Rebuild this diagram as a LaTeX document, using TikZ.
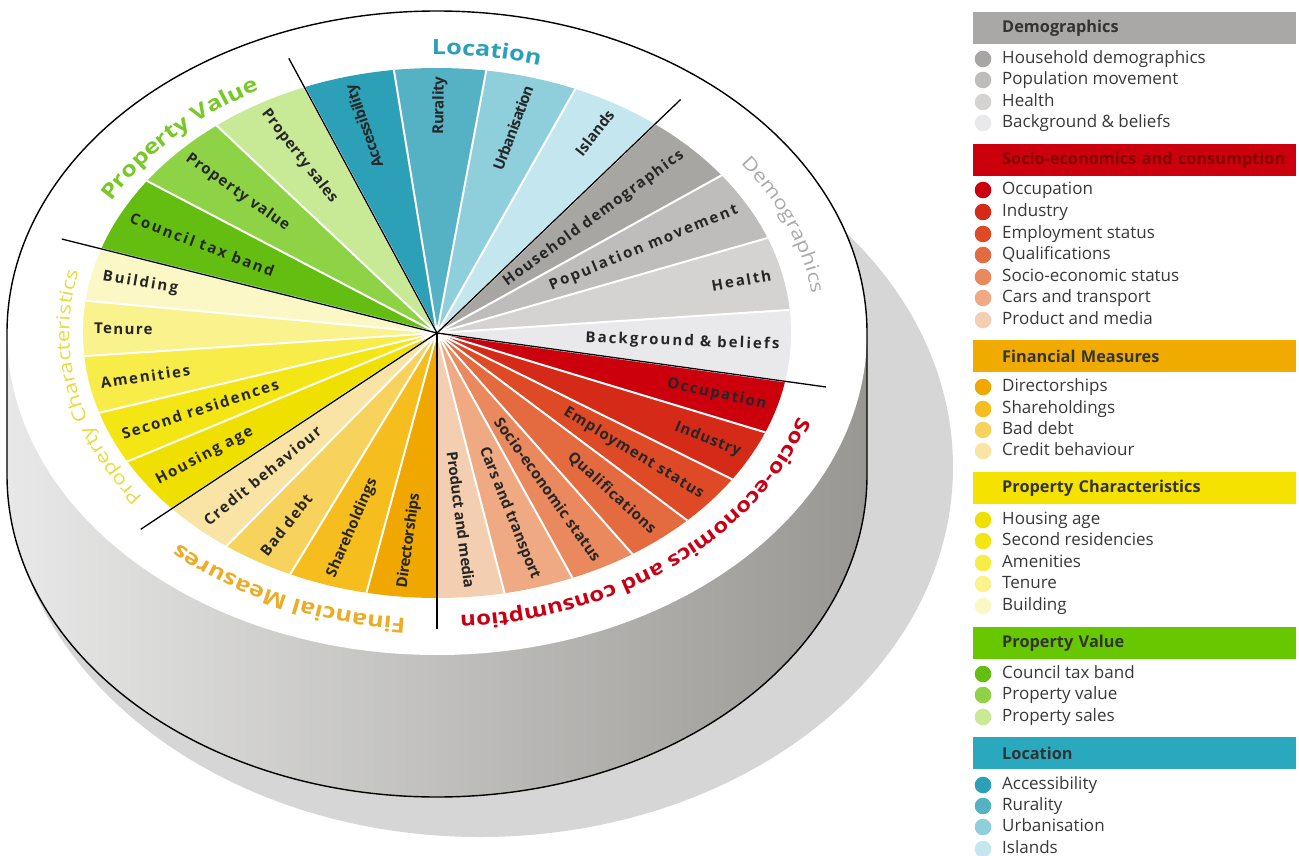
\documentclass[tikz,border=0pt]{standalone}
\usepackage{fontspec}
\setmainfont{Open Sans}
\newfontfamily\lblfont{Open Sans}
\newfontfamily\ttlfont[FakeStretch=1.2]{Open Sans}
\usetikzlibrary{decorations.text}

% wedge colours
\definecolor{locA}{RGB}{43,160,182}
\definecolor{locB}{RGB}{84,178,196}
\definecolor{locC}{RGB}{143,206,219}
\definecolor{locD}{RGB}{196,230,238}
\definecolor{demA}{RGB}{168,166,163}
\definecolor{demB}{RGB}{190,189,187}
\definecolor{demC}{RGB}{212,211,210}
\definecolor{demD}{RGB}{233,233,235}
\definecolor{socA}{RGB}{204,0,12}
\definecolor{socB}{RGB}{214,42,24}
\definecolor{socC}{RGB}{222,74,38}
\definecolor{socD}{RGB}{228,106,64}
\definecolor{socE}{RGB}{234,136,94}
\definecolor{socF}{RGB}{239,170,132}
\definecolor{socG}{RGB}{244,206,176}
\definecolor{finA}{RGB}{240,168,0}
\definecolor{finB}{RGB}{245,190,30}
\definecolor{finC}{RGB}{247,210,92}
\definecolor{finD}{RGB}{250,228,165}
\definecolor{pcA}{RGB}{240,224,0}
\definecolor{pcB}{RGB}{244,230,20}
\definecolor{pcC}{RGB}{247,236,72}
\definecolor{pcD}{RGB}{250,242,140}
\definecolor{pcE}{RGB}{252,248,198}
\definecolor{pvA}{RGB}{100,190,18}
\definecolor{pvB}{RGB}{142,210,70}
\definecolor{pvC}{RGB}{200,234,150}
% headers and titles
\definecolor{demH}{RGB}{170,168,166}
\definecolor{socH}{RGB}{204,0,12}
\definecolor{finH}{RGB}{240,170,0}
\definecolor{pcH}{RGB}{246,226,0}
\definecolor{pvH}{RGB}{104,200,0}
\definecolor{locH}{RGB}{42,168,190}
\definecolor{socHtext}{RGB}{130,0,0}
\definecolor{locT}{RGB}{42,160,185}
\definecolor{pvT}{RGB}{120,200,40}
\definecolor{pcT}{RGB}{232,220,60}
\definecolor{finT}{RGB}{236,172,40}
\definecolor{socT}{RGB}{200,0,20}
\definecolor{demT}{RGB}{170,170,170}
% body
\definecolor{shadowgray}{RGB}{214,214,214}
\definecolor{sideL}{RGB}{232,232,232}
\definecolor{sideR}{RGB}{152,151,147}

\newcommand\ttlb{\ttlfont\bfseries\fontsize{21}{24}\selectfont}
\newcommand\ttls{\ttlfont\bfseries\fontsize{20}{23}\selectfont}
\newcommand\ttlr{\ttlfont\fontsize{18.5}{22}\selectfont}

\tikzset{
  wedgelabel/.style={font=\lblfont\bfseries\fontsize{15}{17}\selectfont, text=black!85, inner sep=1pt},
  cattitle/.style={decorate, decoration={text along path, text align=center, #1}},
  legheader/.style={anchor=north west, minimum width=323pt, minimum height=32pt,
    inner xsep=29pt, text width=265pt, align=left,
    font=\bfseries\fontsize{16.3}{19}\selectfont},
  legitem/.style={anchor=west, inner sep=0pt, font=\fontsize{17}{20}\selectfont,
    text=black!78, text height=12pt, text depth=3.5pt},
}

% start/end angle, colour, tracking, label -- clockwise from the top
\def\wedgelist{112/97/locA/-3/Accessibility, 97/82/locB/-1.5/Rurality,
  82/67/locC/-5/Urbanisation, 67/52/locD/0/Islands,
  52/36.5/demA/10/Household demographics, 36.5/21/demB/14/Population movement,
  21/5/demC/13/Health, 5/-10.5/demD/14/Background \& beliefs,
  -10.5/-22/socA/11/Occupation, -22/-33.5/socB/6/Industry,
  -33.5/-45/socC/7/Employment status, -45/-56.5/socD/5/Qualifications,
  -56.5/-67.5/socE/2/Socio-economic status, -67.5/-79/socF/0/Cars and transport,
  -79/-90/socG/-2/Product and media,
  -90/-101.5/finA/-2.5/Directorships, -101.5/-114.5/finB/0/Shareholdings,
  -114.5/-126.5/finC/8/Bad debt, -126.5/-138.5/finD/10/Credit behaviour,
  -138.5/-151/pcA/12/Housing age, -151/-162.5/pcB/12/Second residences,
  -162.5/-175/pcC/12/Amenities, -175/-187/pcD/9/Tenure, -187/-198.5/pcE/14/Building,
  -198.5/-215/pvA/14/Council tax band, -215/-231.5/pvB/7/Property value,
  -231.5/-248/pvC/4/Property sales}

\begin{document}
\begin{tikzpicture}[x=1pt,y=1pt]
  \useasboundingbox (0,0) rectangle (1299,-856);

  % shadow and side of the disc
  \fill[shadowgray] (480,-467) ellipse [x radius=473, y radius=370];
  \path[left color=sideL, right color=sideR]
    (7,-333) arc[start angle=180, end angle=0, x radius=430, y radius=322]
    -- (867,-475) arc[start angle=0, end angle=-180, x radius=430, y radius=322]
    -- cycle;
  \fill[white] (437,-333) ellipse [x radius=430, y radius=322];

  \begin{scope}[shift={(437,-333)}, x=430pt, y=322pt]
    \begin{scope}
      \clip (0,0) ellipse [x radius=354pt, y radius=265pt];
      \foreach \a/\b/\c/\ls/\t in \wedgelist
        \fill[\c] (0,0) -- (\a:1.3) -- (\b:1.3) -- cycle;
      \foreach \a/\b/\c/\ls/\t in \wedgelist
        \draw[white, line width=2] (0,0) -- (\a:1);
    \end{scope}
    \foreach \a in {112,52,-10.5,-90,-138.5,-198.5}
      \draw[line width=1.3] (0,0) -- (\a:0.92);
    % labels along the wedges
    \foreach \a/\b/\c/\ls/\t [count=\i] in \wedgelist {
      \pgfmathsetmacro\m{(\a+\b)/2}
      \pgfmathsetmacro\rot{atan2(322*sin(\m),430*cos(\m))}
      \ifdim \m pt > -95pt
        \node[wedgelabel, rotate=\rot, anchor=east] (w\i) at (\m:0.8)
          {\addfontfeature{LetterSpace=\ls}\t};
      \else
        \node[wedgelabel, rotate=\rot+180, anchor=west] (w\i) at (\m:0.8)
          {\addfontfeature{LetterSpace=\ls}\t};
      \fi
    }
    % category titles on the rim
    \path[cattitle={text color=locT, text={|\ttlb|Location}}]
      (110:0.865) arc[start angle=110, end angle=54, x radius=372pt, y radius=278.5pt];
    \path[cattitle={text color=demT, text={|\ttlr|Demographics}}]
      (52:0.88) arc[start angle=52, end angle=-10, x radius=378.4pt, y radius=283.4pt];
    \path[cattitle={text color=socT, text={|\ttls|Socio-economics and consumption}}]
      (-10:0.88) arc[start angle=-10, end angle=-92, x radius=378.4pt, y radius=283.4pt];
    \path[cattitle={text color=finT, text={|\ttlb|Financial Measures}}]
      (-89:0.888) arc[start angle=-89, end angle=-139, x radius=381.8pt, y radius=286pt];
    \path[cattitle={text color=pcT, text={|\ttlr|Property Characteristics}}]
      (-136:0.855) arc[start angle=-136, end angle=-201, x radius=367.7pt, y radius=275.3pt];
    \path[cattitle={text color=pvT, text={|\ttlb|Property Value}}]
      (-199:0.86) arc[start angle=-199, end angle=-249, x radius=369.8pt, y radius=276.9pt];
  \end{scope}

  % outline of the disc
  \draw[line width=1.4]
    (7,-333) arc[start angle=180, end angle=0, x radius=430, y radius=322]
    -- (867,-475) arc[start angle=0, end angle=-180, x radius=430, y radius=322]
    -- cycle;

  % legend
  \foreach \y/\c/\tc/\t [count=\i] in {12/demH/black!80/Demographics,
      144/socH/socHtext/Socio-economics and consumption,
      340/finH/black!80/Financial Measures, 472/pcH/black!80/Property Characteristics,
      627/pvH/black!80/Property Value, 737/locH/black!80/Location}
    \node[legheader, fill=\c, text=\tc] (hd\i) at (973,-\y) {\mbox{\t}};
  \foreach \y/\c/\t [count=\i] in {59/demA/Household demographics,
      80/demB/Population movement, 102/demC/Health, 123/demD/Background \& beliefs,
      190/socA/Occupation, 212/socB/Industry, 234/socC/Employment status,
      255/socD/Qualifications, 277/socE/Socio-economic status,
      298/socF/Cars and transport, 320/socG/Product and media,
      387/finA/Directorships, 409/finB/Shareholdings, 430/finC/Bad debt,
      451/finD/Credit behaviour,
      520/pcA/Housing age, 541/pcB/Second residencies, 563/pcC/Amenities,
      584/pcD/Tenure, 606/pcE/Building,
      674/pvA/Council tax band, 695/pvB/Property value, 717/pvC/Property sales,
      785/locA/Accessibility, 806/locB/Rurality, 827/locC/Urbanisation,
      849/locD/Islands} {
    \fill[\c] (983,-\y) circle (8.3);
    \node[legitem] (li\i) at (1002,-\y) {\t};
  }
\end{tikzpicture}
\end{document}
